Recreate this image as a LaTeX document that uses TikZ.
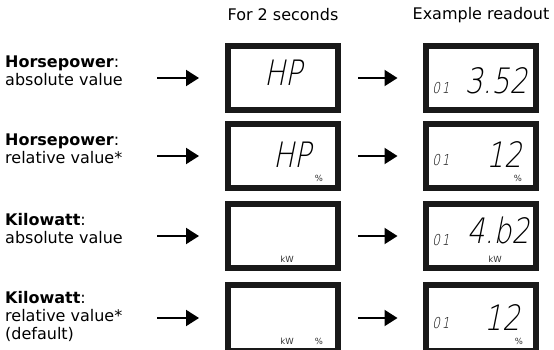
\documentclass[tikz,border=0pt]{standalone}
\usepackage{fontspec}
\setmainfont{DejaVu Sans}
\newfontfamily\lcdfont{DejaVuSans-ExtraLight.ttf}[FakeSlant=0.2,FakeStretch=0.8]
\usetikzlibrary{arrows.meta}

\tikzset{
  display/.style={draw=black!90, line width=6pt, minimum width=110pt, minimum height=64pt, inner sep=0pt},
  arr/.style={line width=2pt, -{Triangle[length=13pt,width=16pt]}},
  lcd/.style={font=\lcdfont\fontsize{35}{35}\selectfont, inner sep=0pt, anchor=base},
  lcdsmall/.style={font=\lcdfont\fontsize{15}{15}\selectfont, inner sep=0pt, anchor=base},
  unit/.style={font=\fontsize{8.5}{8.5}\selectfont, text=black!80, inner sep=0pt},
  lbl/.style={align=left, anchor=west, inner sep=0pt, font=\fontsize{16}{18}\selectfont},
  head/.style={font=\fontsize{16}{18}\selectfont, inner sep=0pt}
}

\begin{document}
\begin{tikzpicture}[x=1pt, y=-1pt]
        \useasboundingbox (0,0) rectangle (554,349);

        % Headers
        \node[head] (h1) at (283,15) {For 2 seconds};
        \node[head] (h2) at (481,15) {Example readout};

        % Labels
        \node[lbl] (l1) at (5,71) {\textbf{Horsepower}:\\absolute value};
        \node[lbl] (l2) at (5,149) {\textbf{Horsepower}:\\relative value*};
        \node[lbl] (l3) at (5,229) {\textbf{Kilowatt}:\\absolute value};
        \node[lbl] (l4) at (5,316) {\textbf{Kilowatt}:\\relative value*\\(default)};

        % Displays
        \node[display] (d1a) at (283,78) {};
        \node[display] (d1b) at (480.5,78) {};
        \node[display] (d2a) at (283,156) {};
        \node[display] (d2b) at (480.5,156) {};
        \node[display] (d3a) at (283,236) {};
        \node[display] (d3b) at (480.5,236) {};
        \node[display, minimum height=66pt] (d4a) at (283,318) {};
        \node[display, minimum height=66pt] (d4b) at (480.5,318) {};

        % Readouts
        \node[lcd] (t1a) at (283,85) {HP};
        \node[lcdsmall] (n1b) at (441,93) {0\kern2pt1};
        \node[lcd] (t1b) at (496,93) {3.52};

        \node[lcd] (t2a) at (292,167) {HP};
        \node[unit] (u2a) at (319,178) {\%};
        \node[lcdsmall] (n2b) at (441,165) {0\kern2pt1};
        \node[lcd] (t2b) at (504,167) {12};
        \node[unit] (u2b) at (518,178) {\%};

        \node[unit] (u3a) at (287,259) {kW};
        \node[lcdsmall] (n3b) at (441,245) {0\kern2pt1};
        \node[lcd] (t3b) at (498,243) {4.b2};
        \node[unit] (u3b) at (495,259) {kW};

        \node[unit] (u4a) at (287,341) {kW};
        \node[unit] (v4a) at (319,341) {\%};
        \node[lcdsmall] (n4b) at (441,328) {0\kern2pt1};
        \node[lcd] (t4b) at (502,330) {12};
        \node[unit] (u4b) at (519,341) {\%};

        % Arrows
        \coordinate (s1) at (157,78);
        \coordinate (s2) at (157,156);
        \coordinate (s3) at (157,236);
        \coordinate (s4) at (157,318);
        \draw[arr, shorten >=26pt] (s1) -- (d1a);
        \draw[arr, shorten >=26pt] (s2) -- (d2a);
        \draw[arr, shorten >=26pt] (s3) -- (d3a);
        \draw[arr, shorten >=26pt] (s4) -- (d4a);
        \draw[arr, shorten <=17pt, shorten >=25pt] (d1a) -- (d1b);
        \draw[arr, shorten <=17pt, shorten >=25pt] (d2a) -- (d2b);
        \draw[arr, shorten <=17pt, shorten >=25pt] (d3a) -- (d3b);
        \draw[arr, shorten <=17pt, shorten >=25pt] (d4a) -- (d4b);
    \end{tikzpicture}
\end{document}
